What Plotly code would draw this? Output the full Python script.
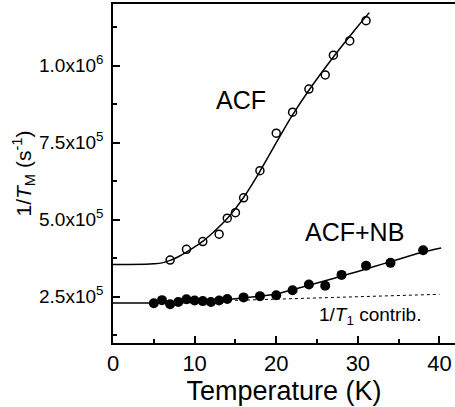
import plotly.graph_objects as go

# Data
acf_T = [7, 9, 11, 13, 14, 15, 16, 18, 20, 22, 24, 26, 27, 29, 31]
acf_R = [3.69e5, 4.04e5, 4.29e5, 4.53e5, 5.05e5, 5.23e5, 5.71e5, 6.59e5, 7.81e5,
         8.49e5, 9.24e5, 9.70e5, 1.034e6, 1.08e6, 1.146e6]

nb_T = [5, 6, 7, 8, 9, 10, 11, 12, 13, 14, 16, 18, 20, 22, 24, 26, 28, 31, 34, 38]
nb_R = [2.29e5, 2.39e5, 2.26e5, 2.33e5, 2.42e5, 2.38e5, 2.36e5, 2.33e5, 2.38e5, 2.43e5,
        2.48e5, 2.52e5, 2.55e5, 2.71e5, 2.90e5, 2.86e5, 3.21e5, 3.51e5, 3.60e5, 4.01e5]

# Fit curves
acf_fit_T = [0, 4, 5, 6, 7, 8, 9, 10, 11, 12, 13, 14, 15, 16, 17, 18, 19, 20, 21, 22, 24, 26, 28, 30, 31.4]
acf_fit_R = [3.55e5, 3.555e5, 3.57e5, 3.60e5, 3.68e5, 3.80e5, 3.95e5, 4.12e5, 4.30e5, 4.52e5,
             4.77e5, 5.04e5, 5.36e5, 5.72e5, 6.13e5, 6.57e5, 7.03e5, 7.50e5, 7.96e5, 8.40e5,
             9.20e5, 9.93e5, 1.062e6, 1.128e6, 1.172e6]

nb_fit_T = [0, 8, 10, 12, 14, 16, 18, 20, 22, 24, 26, 28, 30, 32, 34, 36, 38, 40.2]
nb_fit_R = [2.30e5, 2.305e5, 2.32e5, 2.36e5, 2.41e5, 2.46e5, 2.52e5, 2.59e5, 2.73e5, 2.87e5,
            3.02e5, 3.17e5, 3.32e5, 3.48e5, 3.64e5, 3.80e5, 3.95e5, 4.08e5]

t1_T = [12, 20, 30, 40]
t1_R = [2.36e5, 2.42e5, 2.50e5, 2.58e5]

x_ticks = [0, 10, 20, 30, 40]
x_minor = [5, 15, 25, 35]
y_ticks = [2.5e5, 5.0e5, 7.5e5, 1.0e6]
y_ticktext = ["2.5x10<sup>5</sup>", "5.0x10<sup>5</sup>", "7.5x10<sup>5</sup>", "1.0x10<sup>6</sup>"]
y_minor = [1.25e5, 3.75e5, 6.25e5, 8.75e5, 1.125e6]

FONT = "Liberation Sans, Arial, Helvetica, sans-serif"

fig = go.Figure()
fig.add_trace(go.Scatter(x=acf_fit_T, y=acf_fit_R, mode="lines",
                         line=dict(color="black", width=1.5, shape="spline", smoothing=0.8),
                         showlegend=False))
fig.add_trace(go.Scatter(x=nb_fit_T, y=nb_fit_R, mode="lines",
                         line=dict(color="black", width=1.5, shape="spline", smoothing=0.8),
                         showlegend=False))
fig.add_trace(go.Scatter(x=t1_T, y=t1_R, mode="lines",
                         line=dict(color="black", width=1, dash="dot"), showlegend=False))
fig.add_trace(go.Scatter(x=acf_T, y=acf_R, mode="markers",
                         marker=dict(symbol="circle-open", size=8, color="black",
                                     line=dict(width=1.5, color="black")), showlegend=False))
fig.add_trace(go.Scatter(x=nb_T, y=nb_R, mode="markers",
                         marker=dict(symbol="circle", size=10, color="black"), showlegend=False))

fig.add_annotation(x=15.7, y=8.9e5, text="ACF", showarrow=False,
                   font=dict(family=FONT, size=25, color="black"))
fig.add_annotation(x=29.6, y=4.6e5, text="ACF+NB", showarrow=False,
                   font=dict(family=FONT, size=25, color="black"))
fig.add_annotation(x=31.5, y=1.87e5, text="1/<i>T</i><sub>1</sub> contrib.", showarrow=False,
                   font=dict(family=FONT, size=19, color="black"))

fig.update_xaxes(range=[0, 41.9], tickmode="array", tickvals=x_ticks,
                 ticks="inside", ticklen=7, tickwidth=1.5, tickcolor="black",
                 showline=True, linecolor="black", linewidth=1.5, mirror=True,
                 showgrid=False, zeroline=False,
                 tickfont=dict(family=FONT, size=22, color="black"),
                 title=dict(text="Temperature (K)", font=dict(family=FONT, size=27, color="black"),
                            standoff=2),
                 minor=dict(tickmode="array", tickvals=x_minor, ticks="inside", ticklen=4,
                            tickwidth=1.5, tickcolor="black", showgrid=False))
fig.update_yaxes(range=[1.0e5, 1.2e6], tickmode="array", tickvals=y_ticks, ticktext=y_ticktext,
                 ticks="inside", ticklen=7, tickwidth=1.5, tickcolor="black",
                 showline=True, linecolor="black", linewidth=1.5,
                 showgrid=False, zeroline=False, ticklabelstandoff=4,
                 tickfont=dict(family=FONT, size=19, color="black"),
                 title=dict(text="1/<i>T</i><sub>M</sub> (s<sup>-1</sup>)",
                            font=dict(family=FONT, size=21, color="black"), standoff=2),
                 minor=dict(tickmode="array", tickvals=y_minor, ticks="inside", ticklen=4,
                            tickwidth=1.5, tickcolor="black", showgrid=False))

fig.update_layout(width=455, height=407, margin=dict(l=113, r=0, t=4, b=64),
                  plot_bgcolor="white", paper_bgcolor="white")

fig.write_html("out.html")
